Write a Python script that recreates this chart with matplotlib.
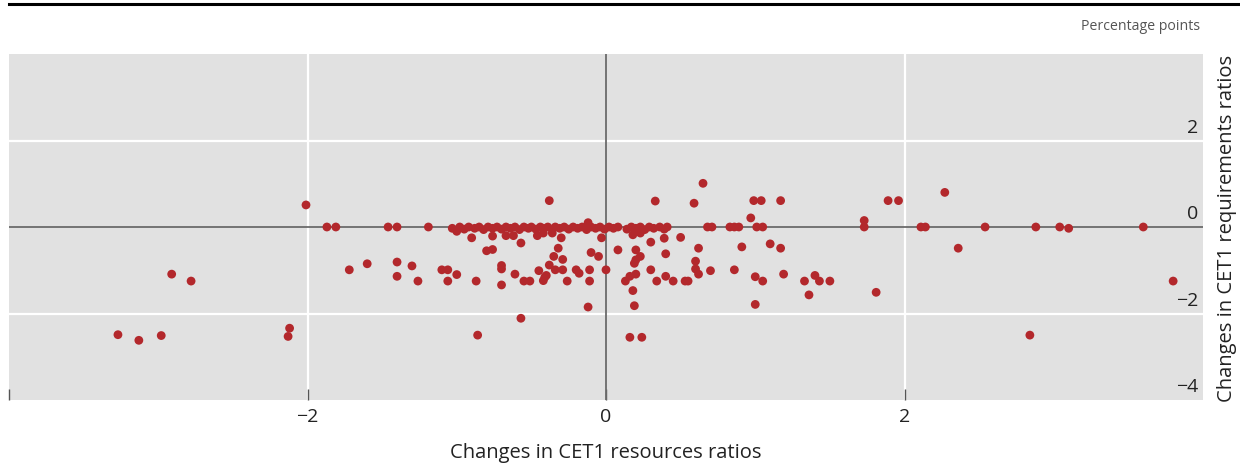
import matplotlib
matplotlib.use("Agg")
import matplotlib.pyplot as plt
from matplotlib.lines import Line2D
import matplotlib.transforms as mtransforms

plt.rcParams['font.family'] = ['Open Sans', 'DejaVu Sans']

# Changes in CET1 resources ratios (x) and requirements ratios (y), percentage points
resources = [
    -3.27, -3.13, -2.98, -2.91, -2.78, -2.12, -2.13, -2.01, -1.87, -1.81,
    -1.72, -1.60, -1.46, -1.40, -1.40, -1.40, -1.30, -1.26, -1.19,
    -1.10, -1.06, -1.06, -1.00, -1.00, -0.90, -0.87, -0.86, -0.80, -0.76,
    -0.76, -0.70, -0.70, -0.70, -0.67, -0.62, -0.61, -0.57, -0.57, -0.55,
    -0.51, -0.46, -0.45, -0.42, -0.42, -0.41, -0.40, -0.38, -0.38, -0.36,
    -0.35, -0.34, -0.32, -0.30, -0.29, -0.29, -0.26, -0.20, -0.18, -0.12,
    -0.12, -0.11, -0.11, -0.10, -0.05, -0.03, 0.00,
    0.08, 0.13, 0.16, 0.16, 0.18, 0.18, 0.19, 0.19, 0.20, 0.20, 0.20, 0.23,
    0.23, 0.24, 0.30, 0.30, 0.33, 0.34, 0.39, 0.40, 0.40, 0.45, 0.50, 0.53,
    0.55, 0.59, 0.60, 0.60, 0.62, 0.62, 0.65, 0.68, 0.71, 0.70, 0.83, 0.86,
    0.89, 0.86, 0.91, 0.97, 0.99, 1.00, 1.00, 1.01, 1.04, 1.05, 1.05, 1.10,
    1.17, 1.17, 1.19,
    1.33, 1.36, 1.40, 1.43, 1.50, 1.73, 1.73, 1.81, 1.89, 1.96, 2.11, 2.14,
    2.27, 2.36, 2.54, 2.84, 2.88, 3.04, 3.10, 3.60, 3.80,
    # dense band along zero
    -1.03, -0.98, -0.95, -0.92, -0.88, -0.85, -0.82, -0.79, -0.76, -0.73,
    -0.70, -0.67, -0.64, -0.61, -0.58, -0.55, -0.52, -0.50, -0.47, -0.44,
    -0.42, -0.39, -0.36, -0.34, -0.31, -0.28, -0.25, -0.22, -0.19, -0.16,
    -0.13, -0.10, -0.07, -0.04, -0.01, 0.02, 0.05, 0.08, 0.14, 0.17,
    0.20, 0.23, 0.26, 0.29, 0.32, 0.36, 0.39, 0.41,
]
requirements = [
    -2.49, -2.62, -2.51, -1.09, -1.25, -2.34, -2.53, 0.51, 0.00, 0.00,
    -0.99, -0.85, 0.00, 0.00, -0.81, -1.14, -0.90, -1.25, 0.00,
    -0.99, -0.99, -1.25, -1.10, -0.10, -0.25, -1.25, -2.50, -0.55, -0.52,
    -0.21, -0.89, -0.97, -1.34, -0.20, -0.20, -1.09, -0.37, -2.11, -1.25,
    -1.25, -0.20, -1.01, -0.14, -1.24, -1.16, -1.12, 0.61, -0.88, -0.14,
    -0.68, -0.99, -0.49, -0.25, -0.75, -0.99, -1.25, -0.99, -1.07, 0.10,
    -1.85, -0.99, -1.25, -0.59, -0.68, -0.25, -0.99,
    -0.53, -1.25, -1.14, -2.55, -0.18, -1.47, -1.82, -0.84, -0.53, -0.76, -1.09, -0.14,
    -0.68, -2.55, -0.35, -0.99, 0.60, -1.25, -0.26, -0.62, -1.14, -1.25, -0.24, -1.25,
    -1.25, 0.55, -0.79, -0.97, -1.09, -0.49, 1.01, 0.00, 0.00, -1.01, 0.00, 0.00,
    0.00, -0.99, -0.46, 0.21, 0.61, -1.15, -1.79, 0.00, 0.61, 0.00, -1.25, -0.39,
    0.61, -0.49, -1.09,
    -1.25, -1.57, -1.12, -1.25, -1.25, 0.15, 0.00, -1.51, 0.61, 0.61, 0.00, 0.00,
    0.80, -0.49, 0.00, -2.50, 0.00, 0.00, -0.03, 0.00, -1.25,
    # dense band along zero
    -0.03, 0.00, -0.05, 0.00, -0.03, 0.00, -0.06, 0.00, -0.03, 0.00,
    -0.05, 0.00, -0.03, 0.00, -0.06, 0.00, -0.03, 0.00, -0.05, 0.00,
    -0.03, 0.00, -0.06, 0.00, -0.03, 0.00, -0.05, 0.00, -0.03, 0.00,
    -0.06, 0.00, -0.03, 0.00, -0.05, 0.00, -0.03, 0.00, -0.05, 0.00,
    -0.03, 0.00, -0.06, 0.00, -0.03, 0.00, -0.05, 0.00,
]

x_ticks = [-4, -2, 0, 2]
x_tick_labels = ['', '\u22122', '0', '2']
y_ticks = [-4, -2, 0, 2]
y_tick_labels = ['\u22124', '\u22122', '0', '2']

fig = plt.figure(figsize=(12.4, 4.64), dpi=100)
ax = fig.add_axes([9 / 1240, 1 - 401 / 464, (1203 - 9) / 1240, (401 - 55) / 464])
ax.set_facecolor('#e1e1e1')
ax.set_xlim(-4, 4)
ax.set_ylim(-4, 4)
for s in ax.spines.values():
    s.set_visible(False)

# grid
for v in [-2, 2]:
    ax.axvline(v, color='white', lw=1.6, zorder=1)
    ax.axhline(v, color='white', lw=1.6, zorder=1)
ax.axvline(0, color='#6b6b6b', lw=1.3, zorder=2)
ax.axhline(0, color='#6b6b6b', lw=1.3, zorder=2)

ax.scatter(resources, requirements, s=40, color='#b3282c', edgecolors='none', zorder=3)

ax.set_xticks(x_ticks)
ax.set_xticklabels(x_tick_labels, fontsize=14, color='#222222')
ax.tick_params(axis='x', direction='in', length=8, width=1, color='#555555', pad=5)
ax.set_yticks(y_ticks)
ax.tick_params(axis='y', left=False, right=False, labelleft=False, labelright=False)

trans = mtransforms.blended_transform_factory(ax.transAxes, ax.transData)
for v, lab in zip(y_ticks, y_tick_labels):
    ax.text(0.996, v + 0.2, lab, transform=trans, ha='right', va='baseline',
            fontsize=14, color='#222222')

ax.set_xlabel('Changes in CET1 resources ratios', fontsize=14.5, color='#222222', labelpad=12)
ax.yaxis.set_label_position('right')
ax.set_ylabel('Changes in CET1 requirements ratios', fontsize=14.5, color='#222222', labelpad=10)

fig.text(1200 / 1240, 1 - 27 / 464, 'Percentage points', ha='right', va='center',
         fontsize=10.2, color='#555555')
fig.add_artist(Line2D([9 / 1240, 1.0], [1 - 5 / 464, 1 - 5 / 464], color='black', lw=2.2))

fig.savefig('out.png', dpi=100)
